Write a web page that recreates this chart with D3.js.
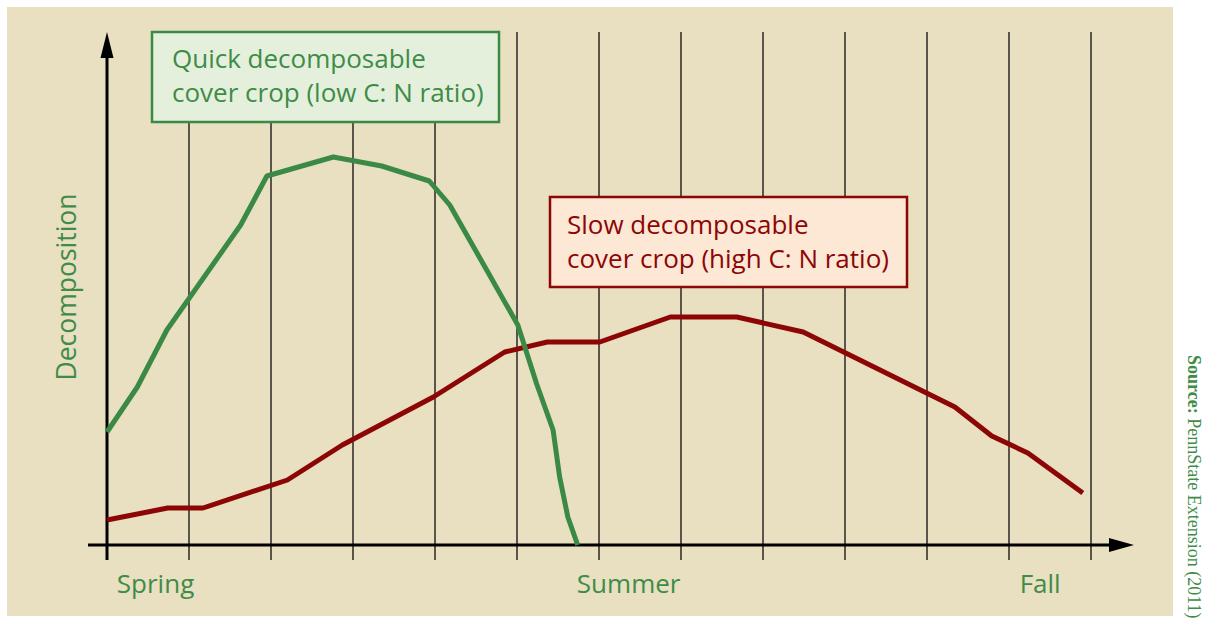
<!DOCTYPE html>
<html>
<head>
<meta charset="utf-8">
<script src="https://cdn.jsdelivr.net/npm/d3@7"></script>
<style>
  html, body { margin: 0; padding: 0; background: #ffffff; }
  svg { display: block; }
</style>
</head>
<body>
<svg id="chart" width="1206" height="621"></svg>
<script>
// ---------------- DATA ----------------
// x in "period" units (one gridline spacing each), y in relative decomposition (0-100)
const quickX = [0, 0.37, 0.73, 1.63, 1.95, 2.76, 3.35, 3.93, 4.18, 4.63, 5.01, 5.24, 5.44, 5.52, 5.62, 5.74];
const quickY = [22.6, 31.6, 43, 64, 73.8, 77.6, 75.8, 72.8, 68, 55, 44, 32.2, 23, 13.6, 5.6, 0];
const slowX = [0, 0.74, 1.17, 2.2, 2.87, 3.98, 4.85, 5.37, 6.01, 6.87, 7.68, 8.49, 10.34, 10.79, 11.23, 11.9];
const slowY = [5, 7.4, 7.4, 13, 20, 29.6, 38.6, 40.6, 40.6, 45.6, 45.6, 42.6, 27.6, 21.8, 18.4, 10.4];
const gridPositions = [1, 2, 3, 4, 5, 6, 7, 8, 9, 10, 11, 12];
const seasonLabels = ["Spring", "Summer", "Fall"];
const seasonPositions = [0.12, 5.73, 11.13];
const quickLegend = ["Quick decomposable", "cover crop (low C: N ratio)"];
const slowLegend = ["Slow decomposable", "cover crop (high C: N ratio)"];
const yTitle = "Decomposition";

// ---------------- STYLE ----------------
const BG = "#E9DFC1";
const GREEN = "#3A8A45";
const GREEN_TEXT = "#3E8C48";
const RED = "#8C0606";
const FONT = "'Open Sans', 'Noto Sans', sans-serif";

const svg = d3.select("#chart");
const x = d3.scaleLinear().domain([0, 12]).range([107, 1091]);
const y = d3.scaleLinear().domain([0, 100]).range([545, 45]);
const yTop = 32, tickBottom = 560;

// background panel
svg.append("rect").attr("x", 7).attr("y", 7).attr("width", 1166).attr("height", 609).attr("fill", BG);

// gridlines
svg.append("g").selectAll("line").data(gridPositions).join("line")
  .attr("x1", d => x(d)).attr("x2", d => x(d))
  .attr("y1", yTop).attr("y2", tickBottom)
  .attr("stroke", "#2a2722").attr("stroke-width", 1.5);

// legend boxes
function legendBox(x0, y0, w, h, fill, stroke, lines, tx, ty, color) {
  const g = svg.append("g");
  g.append("rect").attr("x", x0).attr("y", y0).attr("width", w).attr("height", h)
    .attr("fill", fill).attr("stroke", stroke).attr("stroke-width", 2.5);
  g.selectAll("text").data(lines).join("text")
    .attr("x", tx).attr("y", (d, i) => ty + i * 34)
    .attr("font-family", FONT).attr("font-size", 26).attr("fill", color)
    .text(d => d);
}
legendBox(152, 32, 347, 90, "#E5F0DC", GREEN, quickLegend, 172, 68, GREEN_TEXT);
legendBox(550, 197, 357, 90, "#FDE8D6", RED, slowLegend, 567, 234, RED);

// axes
svg.append("line").attr("x1", 107).attr("x2", 107).attr("y1", 56).attr("y2", tickBottom)
  .attr("stroke", "#000").attr("stroke-width", 3);
svg.append("line").attr("x1", 88).attr("x2", 1111).attr("y1", y(0)).attr("y2", y(0))
  .attr("stroke", "#000").attr("stroke-width", 3);
svg.append("path").attr("d", `M107,${yTop} L100.5,58 L113.5,58 Z`).attr("fill", "#000");
svg.append("path").attr("d", `M1134,${y(0)} L1109,${y(0) - 7} L1109,${y(0) + 7} Z`).attr("fill", "#000");

// season labels
svg.append("g").selectAll("text").data(seasonLabels).join("text")
  .attr("x", (d, i) => x(seasonPositions[i])).attr("y", 593)
  .attr("font-family", FONT).attr("font-size", 26).attr("fill", GREEN_TEXT)
  .text(d => d);

// y title
svg.append("text").attr("transform", "translate(76,287) rotate(-90)")
  .attr("text-anchor", "middle").attr("font-family", FONT).attr("font-size", 26.5)
  .attr("fill", GREEN_TEXT).text(yTitle);

// curves
const line = d3.line().x(d => x(d[0])).y(d => y(d[1]));
svg.append("path").datum(slowX.map((v, i) => [v, slowY[i]]))
  .attr("d", line).attr("fill", "none").attr("stroke", RED).attr("stroke-width", 5)
  .attr("stroke-linejoin", "round");
svg.append("path").datum(quickX.map((v, i) => [v, quickY[i]]))
  .attr("d", line).attr("fill", "none").attr("stroke", GREEN).attr("stroke-width", 5)
  .attr("stroke-linejoin", "round");

// source note
const src = svg.append("text").attr("transform", "translate(1188,355) rotate(90)")
  .attr("font-family", "'Liberation Serif', 'DejaVu Serif', serif").attr("font-size", 18)
  .attr("fill", GREEN_TEXT);
src.append("tspan").attr("font-weight", "bold").text("Source:");
src.append("tspan").text(" PennState Extension (2011)");
</script>
</body>
</html>
